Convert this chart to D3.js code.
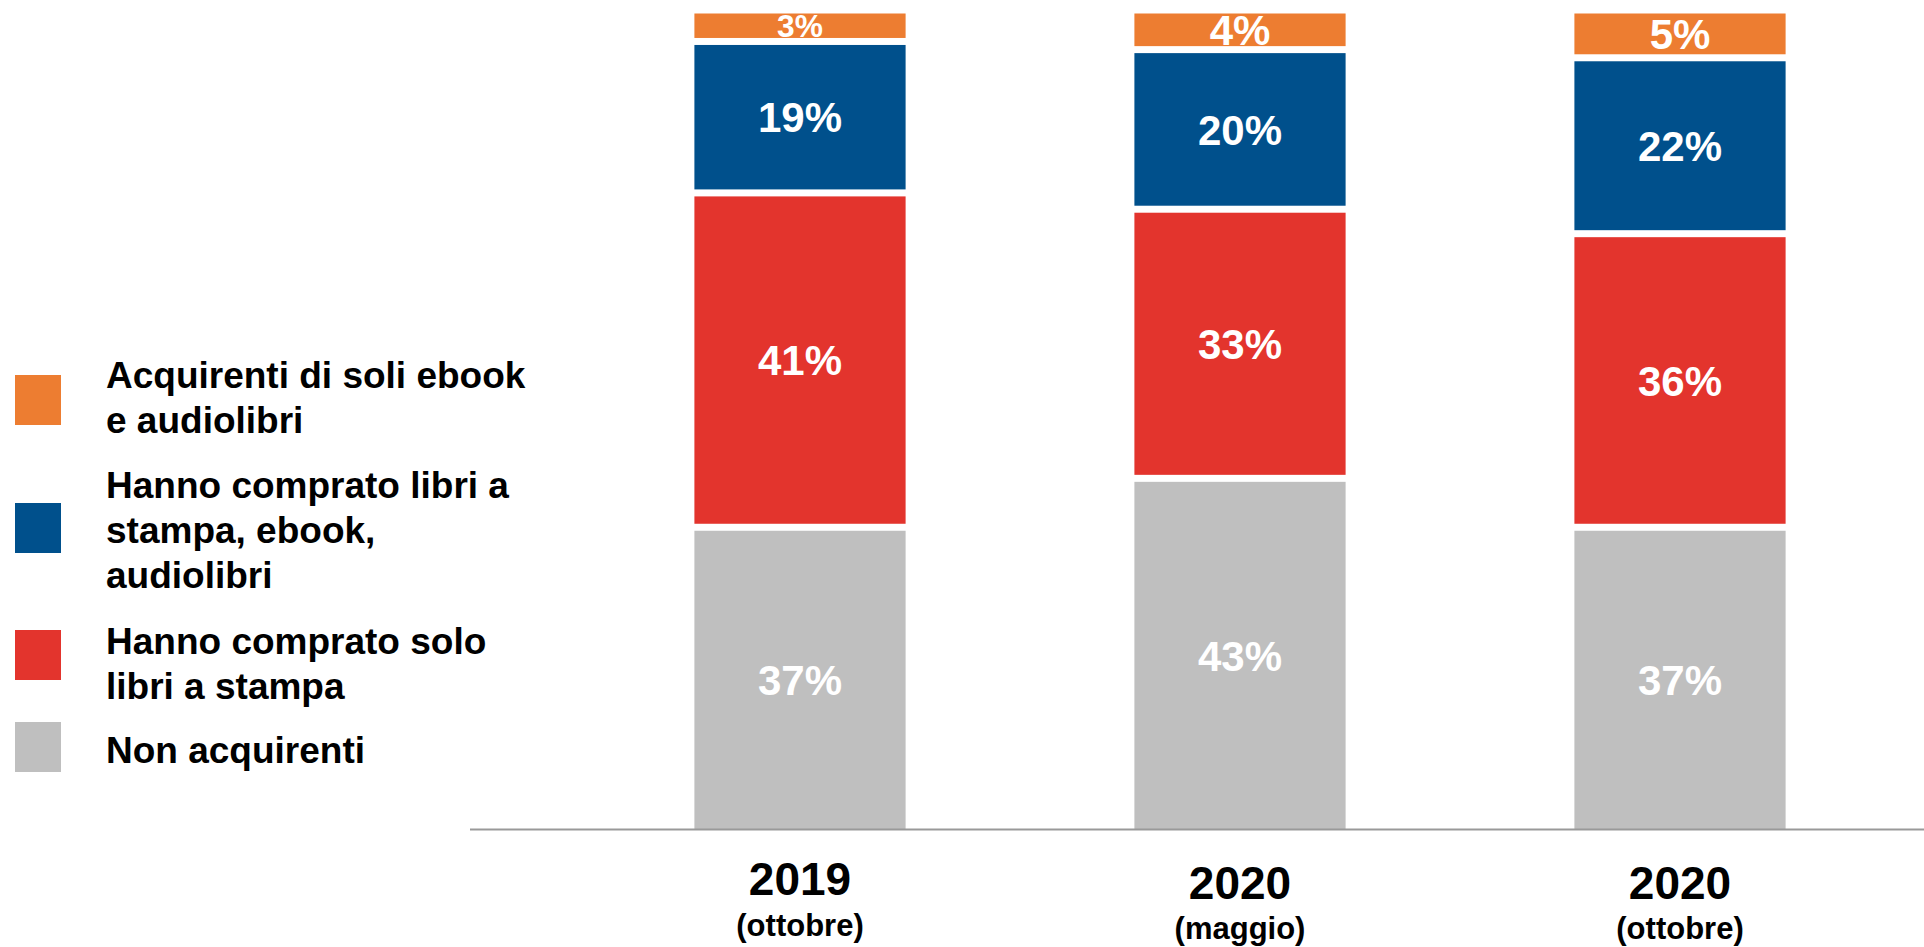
<!DOCTYPE html>
<html>
<head>
<meta charset="utf-8">
<script src="https://cdn.jsdelivr.net/npm/d3@7"></script>
<style>
  html, body { margin: 0; padding: 0; background: #fff; }
  svg { display: block; font-family: "Liberation Sans", Arial, sans-serif; }
</style>
</head>
<body>
<svg id="chart" width="1924" height="947"></svg>
<script>
// ---- data ----
const periods = ["2019 (ottobre)", "2020 (maggio)", "2020 (ottobre)"];
const years = ["2019", "2020", "2020"];
const months = ["(ottobre)", "(maggio)", "(ottobre)"];
const nonAcquirenti = [37, 43, 37];
const soloStampa = [41, 33, 36];
const stampaEbookAudio = [19, 20, 22];
const soloEbookAudio = [3, 4, 5];
const seriesKeys = ["non", "stampa", "tutti", "ebook"];
const seriesColors = ["#BFBFBF", "#E3342D", "#00508C", "#ED7D31"];
const legendLabels = [
  ["Acquirenti di soli ebook", "e audiolibri"],
  ["Hanno comprato libri a", "stampa, ebook,", "audiolibri"],
  ["Hanno comprato solo", "libri a stampa"],
  ["Non acquirenti"]
];
const legendColors = ["#ED7D31", "#00508C", "#E3342D", "#BFBFBF"];

const rows = periods.map((p, i) => ({
  period: p,
  non: nonAcquirenti[i],
  stampa: soloStampa[i],
  tutti: stampaEbookAudio[i],
  ebook: soloEbookAudio[i]
}));

const svg = d3.select("#chart");

const x = d3.scaleBand().domain(periods).range([580, 1900]).paddingInner(0.52).paddingOuter(0.26);
const y = d3.scaleLinear().domain([0, 100]).range([829, 13.5]);

const stacked = d3.stack().keys(seriesKeys)(rows);
const gap = 7;
const last = seriesKeys.length - 1;
const topInset = li => li === last ? 0 : (li === last - 1 ? gap : gap / 2);
const botInset = li => (li === 0 || li === last) ? 0 : gap / 2;

const layers = svg.append("g").selectAll("g").data(stacked).join("g")
  .attr("fill", (d, i) => seriesColors[i]);

layers.each(function(layer, li) {
  const g = d3.select(this);
  const top = d => y(d[1]) + topInset(li);
  const bot = d => y(d[0]) - botInset(li);
  g.selectAll("rect").data(layer).join("rect")
    .attr("x", d => x(d.data.period))
    .attr("width", x.bandwidth())
    .attr("y", top)
    .attr("height", d => bot(d) - top(d));
  g.selectAll("text").data(layer).join("text")
    .attr("x", d => x(d.data.period) + x.bandwidth() / 2)
    .attr("y", d => (top(d) + bot(d)) / 2)
    .attr("dy", "0.36em")
    .attr("text-anchor", "middle")
    .attr("fill", "#fff")
    .attr("font-weight", "bold")
    .attr("font-size", d => Math.min(42, (bot(d) - top(d) - 1) / 0.74))
    .text(d => (d[1] - d[0]) + "%");
});

// baseline
svg.append("line")
  .attr("x1", 470).attr("x2", 1924)
  .attr("y1", y(0) + 0.5).attr("y2", y(0) + 0.5)
  .attr("stroke", "#999").attr("stroke-width", 2);

// category labels
const cat = svg.append("g").selectAll("g").data(periods).join("g")
  .attr("transform", d => `translate(${x(d) + x.bandwidth() / 2},0)`);
cat.append("text")
  .attr("y", (d, i) => i === 0 ? 895 : 899)
  .attr("text-anchor", "middle")
  .attr("font-weight", "bold").attr("font-size", 46).attr("fill", "#000")
  .text((d, i) => years[i]);
cat.append("text")
  .attr("y", (d, i) => i === 0 ? 936 : 939)
  .attr("text-anchor", "middle")
  .attr("font-weight", "bold").attr("font-size", 31).attr("fill", "#000")
  .text((d, i) => months[i]);

// legend
const legendSquareY = [375, 503, 630, 722];
const legendBaseY = [388, 498, 654, 763];
const lg = svg.append("g").selectAll("g").data(legendLabels).join("g");
lg.append("rect")
  .attr("x", 15).attr("y", (d, i) => legendSquareY[i])
  .attr("width", 46).attr("height", 50)
  .attr("fill", (d, i) => legendColors[i]);
lg.append("text")
  .attr("x", 106)
  .attr("y", (d, i) => legendBaseY[i])
  .attr("font-weight", "bold").attr("font-size", 37).attr("fill", "#000")
  .selectAll("tspan").data(d => d).join("tspan")
  .attr("x", 106)
  .attr("dy", (d, j) => j === 0 ? 0 : 45)
  .text(d => d);
</script>
</body>
</html>
